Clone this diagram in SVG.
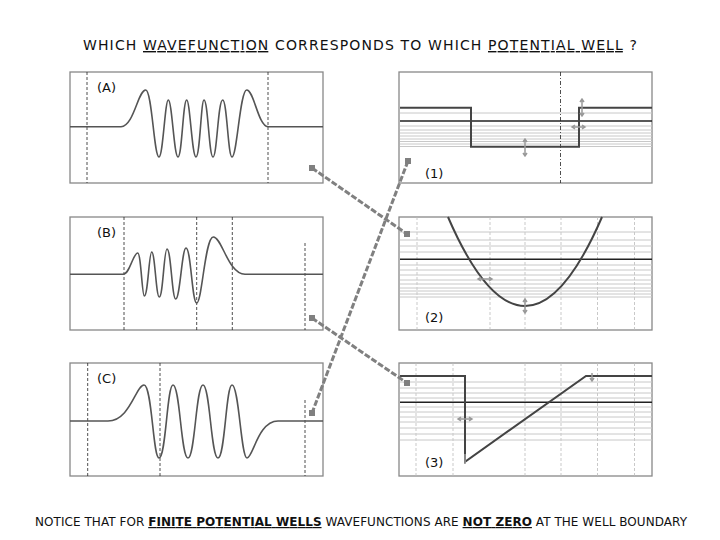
<svg xmlns="http://www.w3.org/2000/svg" width="720" height="540" viewBox="0 0 720 540">
<style>
.box{fill:#fff;stroke:#888;stroke-width:1.3}
.dash{stroke:#222;stroke-width:0.8;stroke-dasharray:3,2}
.grid{stroke:#bbb;stroke-width:0.8;stroke-dasharray:3,2}
.wave{fill:none;stroke:#555;stroke-width:1.6}
.pot{fill:none;stroke:#444;stroke-width:2}
.lev{stroke:#c8c8c8;stroke-width:1}
.blk{stroke:#222;stroke-width:1.6}
.lbl{font-family:"DejaVu Sans",sans-serif;font-size:13px;fill:#111}
.conn{stroke:#808080;stroke-width:3;stroke-dasharray:6,2}
.end{fill:#808080}
.arr{stroke:#999;stroke-width:1.5;fill:none}
</style>
<text x="360" y="50" text-anchor="middle" font-family="DejaVu Sans, sans-serif" font-size="14" textLength="554" fill="#111">WHICH <tspan text-decoration="underline">WAVEFUNCTION</tspan> CORRESPONDS TO WHICH <tspan text-decoration="underline">POTENTIAL WELL</tspan> ?</text>

<g id="A">
<rect class="box" x="70" y="72" width="253" height="111"/>
<line class="dash" x1="87" y1="72" x2="87" y2="183"/><line class="dash" x1="268" y1="72" x2="268" y2="183"/>
<path class="wave" d="M70,126.7 H121 C134,126 138,90 145.7,90 C152,90 154,157 159,157 C163,157 165,100 168.3,100 C172,100 174,157 178,157 C182,157 183,100 186.7,100 C190,100 192,157 196,157 C200,157 201,100 204,100 C208,100 209,157 213,157 C217,157 218,100 222.7,100 C227,100 228,157 232,157 C237,157 240,90 246.7,90 C254,90 258,126 268,126.7 H323"/>
<text class="lbl" x="97" y="92">(A)</text>
</g>
<g id="B">
<rect class="box" x="70" y="217" width="253" height="113"/>
<line class="dash" x1="124" y1="217" x2="124" y2="330"/><line class="dash" x1="196.7" y1="217" x2="196.7" y2="330"/><line class="dash" x1="232.3" y1="217" x2="232.3" y2="330"/><line class="dash" x1="305" y1="243" x2="305" y2="330"/>
<path class="wave" d="M70,274.3 H123 C130,274 133,253 137.7,253 C141,253 142,296 144.3,296 C148,296 149,252 151.7,252 C155,252 156,297 159.3,297 C163,297 164,249 167,249 C171,249 172,299 175.7,299 C180,299 182,248 186,248 C191,248 192,303 196.7,303 C202,303 205,237 213.3,237 C222,237 228,274 245,274.3 H323"/>
<text class="lbl" x="97" y="237">(B)</text>
</g>
<g id="C">
<rect class="box" x="70" y="363" width="253" height="113"/>
<line class="dash" x1="87.7" y1="363" x2="87.7" y2="476"/><line class="dash" x1="160" y1="363" x2="160" y2="476"/><line class="dash" x1="305" y1="400" x2="305" y2="476"/>
<path class="wave" d="M70,421 H108 C130,421 136,385 144,385 C152,385 153,458 159,458 C166,458 167,385 173,385 C180,385 181,458 188,458 C195,458 196,385 203,385 C210,385 211,458 218,458 C225,458 226,385 232,385 C239,385 241,458 247,458 C253,458 258,421 278,421 H323"/>
<text class="lbl" x="97" y="383">(C)</text>
</g>

<g id="W1">
<rect class="box" x="399" y="72" width="253" height="111"/>
<g class="lev"><line x1="400" y1="113" x2="652" y2="113"/><line x1="400" y1="126" x2="652" y2="126"/><line x1="400" y1="130" x2="652" y2="130"/><line x1="400" y1="133" x2="652" y2="133"/><line x1="400" y1="136" x2="652" y2="136"/><line x1="400" y1="139" x2="652" y2="139"/><line x1="400" y1="141.5" x2="652" y2="141.5"/><line x1="400" y1="144" x2="652" y2="144"/><line x1="400" y1="146.5" x2="652" y2="146.5"/></g>
<line x1="560.5" y1="72" x2="560.5" y2="183" stroke="#222" stroke-width="0.8" stroke-dasharray="4,2,1,2"/>
<line class="blk" x1="400" y1="121" x2="652" y2="121"/>
<path class="pot" d="M400,107.7 H471 V146.7 H579 V107.7 H652"/>
<path class="arr" d="M525,140 V155 M523,142 L525,139 L527,142 M523,153 L525,156 L527,153 M582,100 V115 M580,102 L582,99 L584,102 M580,113 L582,116 L584,113 M573,127 H584 M575,125 L572,127 L575,129 M582,125 L585,127 L582,129"/>
<text class="lbl" x="425" y="178">(1)</text>
</g>
<g id="W2">
<rect class="box" x="399" y="217" width="253" height="113"/>
<g class="grid"><line x1="417" y1="217" x2="417" y2="330"/><line x1="490" y1="217" x2="490" y2="330"/><line x1="525" y1="217" x2="525" y2="330"/><line x1="561" y1="217" x2="561" y2="330"/><line x1="597.5" y1="217" x2="597.5" y2="330"/><line x1="634.5" y1="217" x2="634.5" y2="330"/></g>
<g class="lev"><line x1="400" y1="232" x2="652" y2="232"/><line x1="400" y1="240" x2="652" y2="240"/><line x1="400" y1="246" x2="652" y2="246"/><line x1="400" y1="252" x2="652" y2="252"/><line x1="400" y1="265" x2="652" y2="265"/><line x1="400" y1="270" x2="652" y2="270"/><line x1="400" y1="275" x2="652" y2="275"/><line x1="400" y1="280" x2="652" y2="280"/><line x1="400" y1="284" x2="652" y2="284"/><line x1="400" y1="288" x2="652" y2="288"/><line x1="400" y1="291" x2="652" y2="291"/><line x1="400" y1="294" x2="652" y2="294"/><line x1="400" y1="297" x2="652" y2="297"/></g>
<line class="blk" x1="400" y1="259.3" x2="652" y2="259.3"/>
<path class="pot" d="M448,217 Q525,395 602,217"/>
<path class="arr" d="M479,279 H491 M481,277 L478,279 L481,281 M489,277 L492,279 L489,281 M525,300 V312 M523,302 L525,299 L527,302 M523,310 L525,313 L527,310"/>
<text class="lbl" x="425" y="322">(2)</text>
</g>
<g id="W3">
<rect class="box" x="399" y="363" width="253" height="113"/>
<g class="grid"><line x1="416" y1="363" x2="416" y2="476"/><line x1="453" y1="363" x2="453" y2="476"/><line x1="525" y1="363" x2="525" y2="476"/><line x1="561" y1="363" x2="561" y2="476"/><line x1="597.5" y1="363" x2="597.5" y2="476"/><line x1="634.5" y1="363" x2="634.5" y2="476"/></g>
<g class="lev"><line x1="400" y1="382" x2="652" y2="382"/><line x1="400" y1="388" x2="652" y2="388"/><line x1="400" y1="393" x2="652" y2="393"/><line x1="400" y1="398" x2="652" y2="398"/><line x1="400" y1="407" x2="652" y2="407"/><line x1="400" y1="412" x2="652" y2="412"/><line x1="400" y1="417" x2="652" y2="417"/><line x1="400" y1="422" x2="652" y2="422"/><line x1="400" y1="428" x2="652" y2="428"/><line x1="400" y1="434" x2="652" y2="434"/><line x1="400" y1="440" x2="652" y2="440"/></g>
<line class="blk" x1="400" y1="402.3" x2="652" y2="402.3"/>
<path class="pot" d="M400,376 H465 V461.7 L586,376 H652" stroke-width="1.8"/>
<path class="arr" d="M459,419 H471 M461,417 L458,419 L461,421 M469,417 L472,419 L469,421 M465,454 V464 M592,373 V381 M590,378 L592,381 L594,378"/>
<text class="lbl" x="425" y="467">(3)</text>
</g>

<g id="connectors">
<line class="conn" x1="312" y1="168" x2="407" y2="234"/>
<line class="conn" x1="408" y1="161" x2="312" y2="413"/>
<line class="conn" x1="312" y1="318" x2="407" y2="383"/>
<g class="end"><rect x="309" y="165" width="6" height="6"/><rect x="404" y="231" width="6" height="6"/><rect x="405" y="158" width="6" height="6"/><rect x="309" y="410" width="6" height="6"/><rect x="309" y="315" width="6" height="6"/><rect x="404" y="380" width="6" height="6"/></g>
</g>

<text x="361" y="526" text-anchor="middle" font-family="DejaVu Sans, sans-serif" font-size="12" textLength="652" fill="#111">NOTICE THAT FOR <tspan font-weight="bold" text-decoration="underline">FINITE POTENTIAL WELLS</tspan> WAVEFUNCTIONS ARE <tspan font-weight="bold" text-decoration="underline">NOT ZERO</tspan> AT THE WELL BOUNDARY</text>
</svg>
